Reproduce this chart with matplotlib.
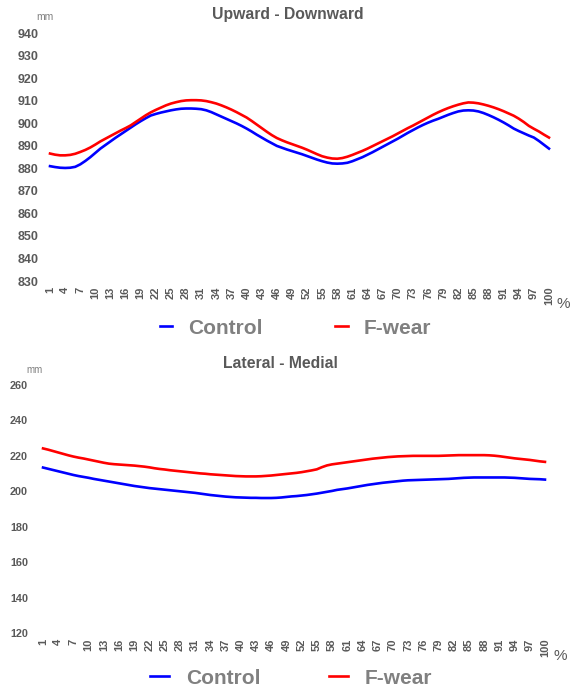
import numpy as np
import matplotlib
matplotlib.use("Agg")
import matplotlib.pyplot as plt

plt.rcParams['font.family'] = ['Liberation Sans', 'DejaVu Sans']

# percent of cycle, 1..100
pct = list(range(1, 101))
tick_labels = [str(p) for p in range(1, 101, 3)]

# Upward - Downward (mm)
ud_control = [
    881.0, 880.6, 880.3, 880.2, 880.3, 880.7, 881.8, 883.3, 885.0, 886.9,
    888.8, 890.4, 892.0, 893.6, 895.1, 896.6, 898.1, 899.6, 901.0, 902.3,
    903.5, 904.2, 904.8, 905.3, 905.8, 906.2, 906.5, 906.6, 906.6, 906.5,
    906.3, 905.8, 905.0, 904.0, 903.0, 902.0, 901.0, 900.0, 898.9, 897.7,
    896.4, 895.0, 893.7, 892.4, 891.2, 890.0, 889.2, 888.4, 887.7, 887.0,
    886.3, 885.5, 884.7, 883.9, 883.2, 882.6, 882.2, 882.1, 882.2, 882.5,
    883.2, 884.1, 885.0, 886.1, 887.2, 888.4, 889.6, 890.8, 892.0, 893.2,
    894.5, 895.8, 897.0, 898.2, 899.3, 900.3, 901.2, 902.0, 902.9, 903.8,
    904.6, 905.3, 905.7, 905.8, 905.7, 905.3, 904.6, 903.7, 902.7, 901.6,
    900.4, 899.1, 897.7, 896.6, 895.6, 894.6, 893.7, 892.2, 890.5, 888.8,
]
ud_fwear = [
    886.6, 886.1, 885.8, 885.8, 886.0, 886.5, 887.3, 888.2, 889.3, 890.6,
    892.0, 893.2, 894.4, 895.6, 896.8, 897.9, 899.1, 900.6, 902.1, 903.6,
    904.9, 906.0, 907.0, 908.0, 908.8, 909.4, 909.9, 910.2, 910.3, 910.3,
    910.2, 909.9, 909.4, 908.8, 908.0, 907.1, 906.1, 905.0, 903.8, 902.6,
    901.1, 899.5, 897.9, 896.3, 894.8, 893.5, 892.5, 891.6, 890.8, 890.0,
    889.2, 888.3, 887.3, 886.3, 885.4, 884.8, 884.4, 884.3, 884.6, 885.2,
    886.0, 886.9, 887.8, 888.8, 889.9, 891.0, 892.1, 893.2, 894.3, 895.5,
    896.7, 897.9, 899.0, 900.2, 901.4, 902.6, 903.8, 904.9, 905.9, 906.8,
    907.6, 908.3, 908.9, 909.3, 909.2, 908.9, 908.4, 907.8, 907.1, 906.3,
    905.4, 904.4, 903.4, 902.1, 900.6, 898.9, 897.6, 896.4, 895.0, 893.7,
]

# Lateral - Medial (mm)
lm_control = [
    213.4, 212.7, 212.0, 211.3, 210.6, 209.9, 209.2, 208.6, 208.1, 207.6,
    207.0, 206.5, 206.0, 205.5, 205.0, 204.5, 204.0, 203.5, 203.0, 202.6,
    202.2, 201.8, 201.5, 201.2, 200.9, 200.6, 200.3, 200.0, 199.7, 199.4,
    199.1, 198.7, 198.3, 197.9, 197.6, 197.3, 197.0, 196.8, 196.6, 196.5,
    196.4, 196.3, 196.3, 196.2, 196.2, 196.2, 196.3, 196.5, 196.8, 197.1,
    197.3, 197.6, 197.9, 198.3, 198.7, 199.2, 199.7, 200.2, 200.8, 201.2,
    201.6, 202.1, 202.6, 203.1, 203.6, 204.0, 204.4, 204.8, 205.1, 205.4,
    205.7, 206.0, 206.2, 206.3, 206.4, 206.5, 206.6, 206.7, 206.8, 206.9,
    207.0, 207.2, 207.4, 207.6, 207.7, 207.8, 207.8, 207.8, 207.8, 207.8,
    207.8, 207.8, 207.7, 207.6, 207.4, 207.2, 207.0, 206.9, 206.8, 206.6,
]
lm_fwear = [
    224.2, 223.5, 222.7, 221.9, 221.1, 220.3, 219.6, 219.0, 218.5, 217.9,
    217.3, 216.7, 216.1, 215.6, 215.3, 215.1, 214.9, 214.7, 214.5, 214.2,
    213.9, 213.5, 213.0, 212.6, 212.3, 211.9, 211.6, 211.3, 211.0, 210.7,
    210.4, 210.1, 209.9, 209.6, 209.4, 209.2, 209.0, 208.8, 208.6, 208.5,
    208.4, 208.4, 208.4, 208.5, 208.7, 208.9, 209.2, 209.5, 209.8, 210.1,
    210.4, 210.8, 211.3, 211.8, 212.4, 213.6, 214.6, 215.2, 215.6, 216.0,
    216.4, 216.8, 217.2, 217.6, 218.0, 218.4, 218.7, 219.0, 219.3, 219.5,
    219.7, 219.8, 219.9, 220.0, 220.0, 220.0, 220.0, 220.0, 220.0, 220.1,
    220.2, 220.3, 220.4, 220.4, 220.4, 220.4, 220.4, 220.4, 220.3, 220.1,
    219.8, 219.4, 219.0, 218.6, 218.3, 218.0, 217.7, 217.3, 216.9, 216.6,
]

W, H = 576, 691
fig = plt.figure(figsize=(W / 100, H / 100), dpi=100)

txt = '#595959'


def px(x0, y0, x1, y1):
    # axes rect from pixel box (left, top, right, bottom)
    return [x0 / W, 1 - y1 / H, (x1 - x0) / W, (y1 - y0) / H]


def setup(ax, ylim, yticks, ysize, ypad):
    ax.set_xlim(0.5, 100.5)
    ax.set_ylim(*ylim)
    ax.set_yticks(yticks)
    ax.set_xticks(list(range(1, 101, 3)))
    ax.set_xticklabels(tick_labels, rotation=90, fontsize=8, color=txt,
                       fontweight='bold')
    for lab in ax.get_yticklabels():
        lab.set_fontsize(ysize)
        lab.set_fontweight('bold')
        lab.set_color(txt)
    ax.tick_params(length=0, pad=ypad)
    ax.tick_params(axis='x', pad=4)
    for s in ax.spines.values():
        s.set_visible(False)


# top panel
ax1 = fig.add_axes(px(47.5, 33.3, 551.5, 281))
ax1.plot(pct, ud_control, color='#0000FF', lw=1.9, label='Control')
ax1.plot(pct, ud_fwear, color='#FF0000', lw=1.9, label='F-wear')
setup(ax1, (830, 940), list(range(830, 941, 10)), 9, 6.5)
fig.text(288 / W, 1 - 15 / H, 'Upward - Downward', ha='center', va='center',
         fontsize=11.3, fontweight='bold', color=txt)
fig.text(45 / W, 1 - 17 / H, 'mm', ha='center', va='center', fontsize=7.5,
         color='#808080')
fig.text(563 / W, 1 - 304 / H, '%', ha='center', va='center', fontsize=11,
         color=txt)
ax1.legend(loc='center', bbox_to_anchor=(295.5 / W, 1 - 328 / H),
           bbox_transform=fig.transFigure, ncol=2, frameon=False,
           handlelength=0.6, handletextpad=0.75, columnspacing=3.5,
           prop={'size': 15, 'weight': 'bold'}, labelcolor='#808080')

# bottom panel
ax2 = fig.add_axes(px(40.5, 385, 547.5, 633))
ax2.plot(pct, lm_control, color='#0000FF', lw=1.9, label='Control')
ax2.plot(pct, lm_fwear, color='#FF0000', lw=1.9, label='F-wear')
setup(ax2, (120, 260), list(range(120, 261, 20)), 7.8, 9)
fig.text(280 / W, 1 - 363 / H, 'Lateral - Medial', ha='center', va='center',
         fontsize=11.3, fontweight='bold', color=txt)
fig.text(35 / W, 1 - 370 / H, 'mm', ha='center', va='center', fontsize=7,
         color='#808080')
fig.text(560 / W, 1 - 656 / H, '%', ha='center', va='center', fontsize=11,
         color=txt)
ax2.legend(loc='center', bbox_to_anchor=(291 / W, 1 - 678 / H),
           bbox_transform=fig.transFigure, ncol=2, frameon=False,
           handlelength=0.9, handletextpad=0.8, columnspacing=3.3,
           prop={'size': 15, 'weight': 'bold'}, labelcolor='#808080')

fig.savefig('out.png', dpi=100)
